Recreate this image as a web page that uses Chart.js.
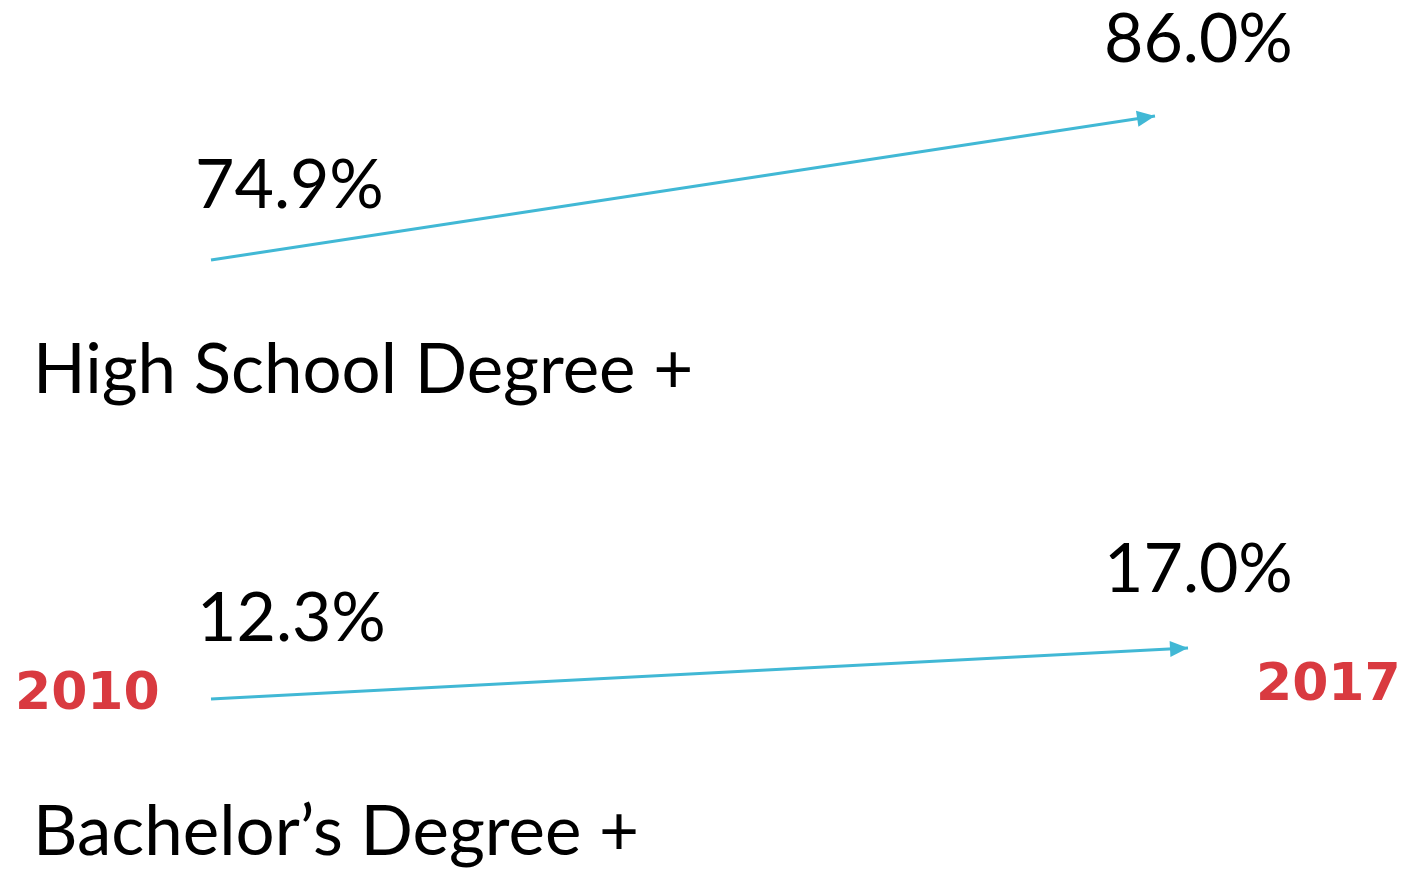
<!DOCTYPE html>
<html><head><meta charset="utf-8">
<script src="https://cdn.jsdelivr.net/npm/chart.js@4"></script>
<style>html,body{margin:0;padding:0;background:#fff;overflow:hidden}</style>
</head><body>
<canvas id="c" width="1407" height="872"></canvas>
<script>
// ---- data ----
const years = [2010, 2017];
const categories = ["High School Degree +", "Bachelor\u2019s Degree +"];
const highSchool = [74.9, 86.0];
const bachelors = [12.3, 17.0];

// ---- styles / layout (not data) ----
const BLUE = '#41B8D5';
const RED = '#D93A40';
const valueLabelPos = [   // [dx, dy] from each point, text left/baseline
  [[-16, -52], [-51, -54]],
  [[-14, -58], [-84, -56]]
];
const categoryPos = [[33, 393], [33, 855]];
const yearPos = [[15, 709], [1256, 700]];

const toPts = vals => years.map((y, i) => ({x: y, y: vals[i]}));

const arrowAndText = {
  id: 'arrowAndText',
  afterDatasetsDraw(chart) {
    const ctx = chart.ctx;
    ctx.save();
    chart.data.datasets.forEach((ds, di) => {
      const pts = chart.getDatasetMeta(di).data;
      const a = pts[0], b = pts[pts.length - 1];
      const ang = Math.atan2(b.y - a.y, b.x - a.x);
      const L = 18, W = 8;
      ctx.fillStyle = BLUE;
      ctx.beginPath();
      ctx.moveTo(b.x, b.y);
      ctx.lineTo(b.x - L * Math.cos(ang) + W * Math.sin(ang), b.y - L * Math.sin(ang) - W * Math.cos(ang));
      ctx.lineTo(b.x - L * Math.cos(ang) - W * Math.sin(ang), b.y - L * Math.sin(ang) + W * Math.cos(ang));
      ctx.closePath();
      ctx.fill();
      // value labels
      ctx.fillStyle = '#000';
      ctx.font = '68px Lato';
      ctx.textAlign = 'left';
      ctx.textBaseline = 'alphabetic';
      pts.forEach((p, pi) => {
        const off = valueLabelPos[di][pi];
        ctx.fillText(ds.data[pi].y.toFixed(1) + '%', p.x + off[0], p.y + off[1]);
      });
      // category label
      ctx.font = '69px Lato';
      ctx.fillText(categories[di], categoryPos[di][0], categoryPos[di][1]);
    });
    // year labels
    ctx.fillStyle = RED;
    ctx.font = 'bold 52px "DejaVu Sans"';
    years.forEach((y, i) => ctx.fillText(String(y), yearPos[i][0], yearPos[i][1]));
    ctx.restore();
  }
};

new Chart(document.getElementById('c'), {
  type: 'line',
  data: {
    datasets: [
      {label: categories[0], data: toPts(highSchool), xAxisID: 'x', yAxisID: 'y',
       borderColor: BLUE, borderWidth: 3, pointRadius: 0, tension: 0, fill: false, clip: false},
      {label: categories[1], data: toPts(bachelors), xAxisID: 'x2', yAxisID: 'y2',
       borderColor: BLUE, borderWidth: 3, pointRadius: 0, tension: 0, fill: false, clip: false}
    ]
  },
  options: {
    responsive: false,
    animation: false,
    devicePixelRatio: 1,
    layout: {padding: 0, autoPadding: false},
    plugins: {legend: {display: false}, tooltip: {enabled: false}},
    scales: {
      x: {type: 'linear', display: false, min: 2008.4354, max: 2018.8687},
      x2: {type: 'linear', display: false, min: 2008.4882, max: 2018.5691},
      y: {type: 'linear', display: false, min: 27.725, max: 94.942},
      y2: {type: 'linear', display: false, min: -3.644, max: 76.718}
    }
  },
  plugins: [arrowAndText]
});
</script>
</body></html>
